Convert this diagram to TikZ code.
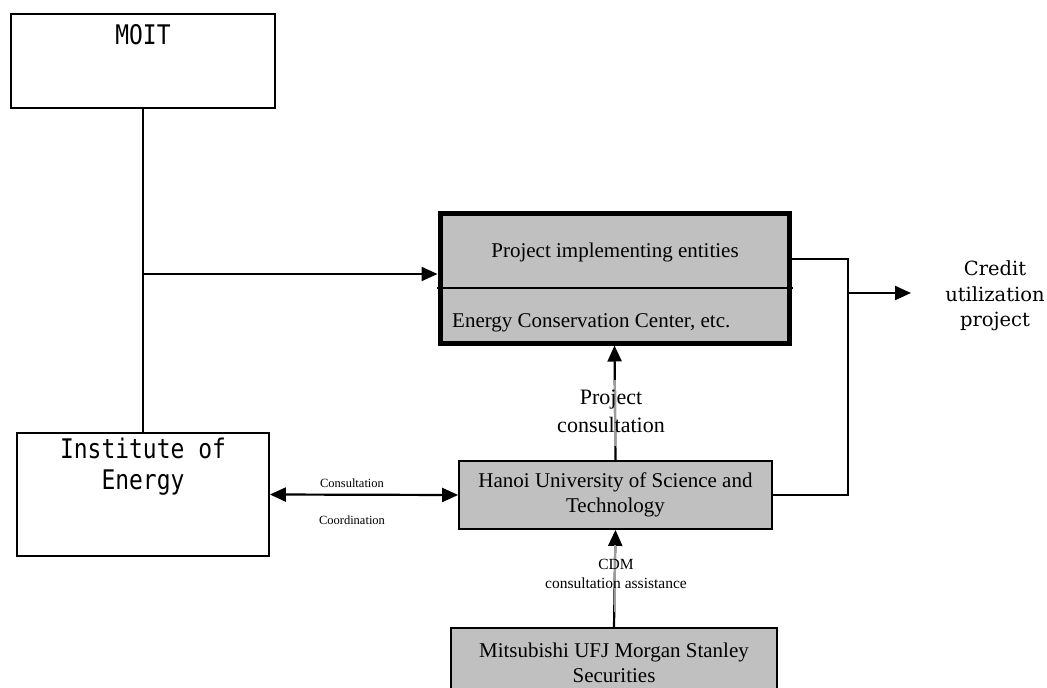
\documentclass[tikz,border=0pt]{standalone}
\usepackage{fontspec}
\setmainfont{Liberation Serif}
\newfontfamily\gothicfont{DejaVu Sans Mono}
\newfontfamily\centuryfont{DejaVu Serif}
\usetikzlibrary{arrows.meta}
\definecolor{boxgray}{HTML}{C0C0C0}
\definecolor{midgray}{HTML}{9C9C9C}
\newcommand{\gth}[1]{\scalebox{0.85}[1]{#1}}
\begin{document}
\begin{tikzpicture}[x=1pt,y=-1pt,
  plainbox/.style={draw, line width=1.8pt, fill=white, inner sep=0pt},
  graybox/.style={draw, line width=1.8pt, fill=boxgray, inner sep=0pt, align=center,
    font=\fontsize{21}{25.5}\selectfont},
  conn/.style={line width=2.2pt},
  tip/.style={-{Triangle[length=16pt,width=14pt]}},
  gothictext/.style={inner sep=0pt, align=center, font=\gothicfont\fontsize{27}{31}\selectfont},
  smalltext/.style={inner sep=0pt, font=\fontsize{12.5}{15}\selectfont},
  cdmtext/.style={inner sep=0pt, align=center, font=\fontsize{15.5}{19}\selectfont},
  graylineover/.style={line width=2.2pt, draw=midgray}
]
\useasboundingbox (0,0) rectangle (1047,688);
\clip (0,0) rectangle (1047,688);

% boxes
\node[plainbox, minimum width=264, minimum height=94] (moit) at (143,61) {};
\node[gothictext] (moitlabel) at (143,35) {\gth{MOIT}};

\node[plainbox, minimum width=252, minimum height=123] (inst) at (143,494.5) {};
\node[gothictext, anchor=north] (instlabel) at (143,438) {\gth{Institute of}\\\gth{Energy}};

\node[draw, line width=5pt, fill=boxgray, minimum width=349, minimum height=130, inner sep=0pt] (proj) at (614.5,278) {};

\node[graybox, minimum width=313, minimum height=68] (hanoi) at (615.5,495)
  {Hanoi University of Science and\\Technology};

\node[graybox, minimum width=326, minimum height=70] (mitsu) at (614,663)
  {Mitsubishi UFJ Morgan Stanley\\Securities};

% project box content
\coordinate (divl) at (437,288);
\coordinate (divr) at (793,288);
\draw[line width=2pt] (divl) -- (divr);
\node[inner sep=0pt, font=\fontsize{21}{25}\selectfont] (projtitle) at (615,252) {Project implementing entities};
\node[inner sep=0pt, anchor=west, font=\fontsize{21}{25}\selectfont] (projsub) at (452,323) {Energy Conservation Center, etc.};

% MOIT to Institute trunk and branch to project box
\coordinate (branch) at (143,274);
\draw[conn] (moit.south) -- (inst.north);
\draw[conn, tip] (branch) -- (branch -| proj.west);

% right side connector to credit utilization
\coordinate (rtop) at (848,259);
\coordinate (rmid) at (848,293);
\coordinate (rbot) at (848,495);
\coordinate (credtip) at (911,293);
\draw[conn] (proj.east |- rtop) -- (rtop) -- (rbot) -- (hanoi.east);
\draw[conn, tip] (rmid) -- (credtip);
\node[inner sep=0pt, align=center, font=\centuryfont\fontsize{19.5}{25.5}\selectfont] (credit) at (995,296)
  {Credit\\utilization\\project};

% consultation double arrow
\draw[conn, {Triangle[length=16pt,width=14pt]}-{Triangle[length=16pt,width=14pt]}] (inst.east) -- (hanoi.west);
\node[smalltext] (consult) at (352,483) {Consultation};
\node[smalltext] (coord) at (352,520) {Coordination};

% project consultation arrow
\draw[conn, tip] (hanoi.north) -- (proj.south);
\coordinate (pg1) at (615,380);
\coordinate (pg2) at (615,446);
\draw[graylineover] (pg1) -- (pg2);
\node[inner sep=0pt, align=center, font=\fontsize{22}{28}\selectfont] (projcons) at (611,411)
  {Project\\consultation};

% CDM arrow
\draw[conn, tip] (mitsu.north) -- (hanoi.south);
\coordinate (cg1) at (615,545);
\coordinate (cg2) at (615,612);
\draw[graylineover] (cg1) -- (cg2);
\node[cdmtext] (cdm) at (616,573.5) {CDM\\consultation assistance};
\end{tikzpicture}
\end{document}
